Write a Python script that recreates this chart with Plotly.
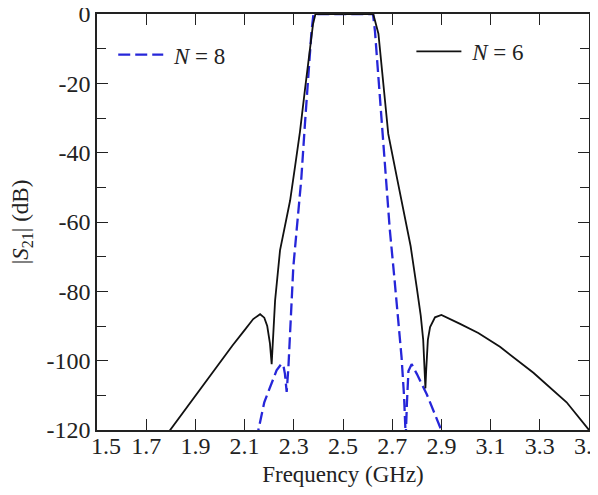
import plotly.graph_objects as go

# ── Data (frequency in GHz, |S21| in dB) ─────────────────────────────────

freq_n6 = [1.785, 1.85, 1.95, 2.05, 2.10, 2.135, 2.163, 2.18, 2.192, 2.203,
           2.210, 2.217, 2.224, 2.244, 2.264, 2.285, 2.305, 2.325, 2.345,
           2.365, 2.378, 2.388, 2.5, 2.623, 2.644, 2.664, 2.684, 2.72, 2.75,
           2.775, 2.80, 2.816, 2.826, 2.832, 2.835, 2.838, 2.845, 2.854,
           2.874, 2.90, 2.935, 2.976, 3.05, 3.138, 3.274, 3.409, 3.5]
s21_n6 = [-121.2, -114.9, -105.3, -95.7, -91.2, -88.0, -86.6, -87.6, -90.0,
          -95.0, -101.0, -92.2, -82.6, -68.2, -61.5, -53.8, -44.0, -34.0,
          -22.0, -10.0, -3.0, 0.0, 0.0, 0.0, -5.7, -20.1, -34.6, -47.5, -58.0,
          -67.0, -79.0, -87.0, -94.0, -103.0, -108.0, -103.0, -94.0, -90.3,
          -87.5, -86.8, -87.9, -89.4, -92.0, -96.0, -103.5, -112.0, -120.0]

freq_n8 = [2.15, 2.156, 2.18, 2.203, 2.23, 2.25, 2.258, 2.264, 2.271, 2.278,
           2.285, 2.298, 2.312, 2.33, 2.345, 2.36, 2.372, 2.38, 2.5, 2.622,
           2.63, 2.65, 2.67, 2.69, 2.71, 2.725, 2.738, 2.748, 2.755, 2.76,
           2.766, 2.779, 2.80, 2.84, 2.905]
s21_n8 = [-123.0, -120.0, -112.0, -107.6, -102.8, -100.9, -101.5, -103.8,
          -109.0, -102.0, -92.2, -73.0, -62.0, -48.0, -32.0, -16.0, -5.0, 0.0,
          0.0, 0.0, -5.0, -25.0, -44.0, -62.0, -77.0, -88.0, -99.0, -110.0,
          -122.0, -112.0, -103.0, -101.0, -103.8, -109.6, -121.0]

x_ticks = [1.5, 1.7, 1.9, 2.1, 2.3, 2.5, 2.7, 2.9, 3.1, 3.3, 3.5]
# first label sits a little right of its tick, clear of "-120"
x_labels = ["\u00a0\u00a0\u00a01.5", "1.7", "1.9", "2.1", "2.3", "2.5",
            "2.7", "2.9", "3.1", "3.3", "3.5"]
y_ticks = [-120, -100, -80, -60, -40, -20, 0]
y_labels = ["-120", "-100", "-80", "-60", "-40", "-20", "0"]

FONT = "Liberation Serif, Times New Roman, serif"
BLUE = "#2626d9"
INK = "#222222"

fig = go.Figure()

fig.add_trace(go.Scatter(
    x=freq_n8, y=s21_n8, mode="lines", name="\u00a0<i>N</i> = 8",
    line=dict(color=BLUE, width=2.3, dash="12px,5px"),
    legend="legend",
))
fig.add_trace(go.Scatter(
    x=freq_n6, y=s21_n6, mode="lines", name="\u00a0<i>N</i> = 6",
    line=dict(color="#111111", width=1.8),
    legend="legend2",
))

axis_common = dict(
    showgrid=False, zeroline=False, showline=True, linecolor=INK,
    linewidth=1.5, mirror="allticks", ticks="inside", tickcolor=INK,
    tickwidth=1.3, ticklen=11, automargin=False, ticklabeloverflow="allow",
    tickfont=dict(family=FONT, size=24, color=INK),
)

fig.update_xaxes(
    range=[1.5, 3.5], tickvals=x_ticks, ticktext=x_labels,
    ticklabelstandoff=-7,
    title=dict(text="Frequency (GHz)", font=dict(family=FONT, size=23, color=INK),
               standoff=8),
    **axis_common,
)
fig.update_yaxes(
    range=[-120, 0], tickvals=y_ticks, ticktext=y_labels,
    minor=dict(dtick=10, ticks="inside", ticklen=9, tickcolor=INK, tickwidth=1.3),
    title=dict(text="|<i>S</i><sub>21</sub>| (dB)", font=dict(family=FONT, size=23, color=INK),
               standoff=18),
    **axis_common,
)

legend_common = dict(
    bgcolor="rgba(0,0,0,0)", borderwidth=0,
    font=dict(family=FONT, size=23, color=INK),
    xanchor="left", yanchor="middle", itemwidth=45,
)

# the page body adds an 8px offset, so the figure is shrunk by that much
fig.update_layout(
    template="none",
    width=590, height=487,
    margin=dict(l=89, r=9, t=6, b=65),
    plot_bgcolor="white", paper_bgcolor="white",
    showlegend=True,
    legend=dict(x=0.033, y=0.902, **legend_common),
    legend2=dict(x=0.639, y=0.91, **legend_common),
)

fig.write_html("out.html")
